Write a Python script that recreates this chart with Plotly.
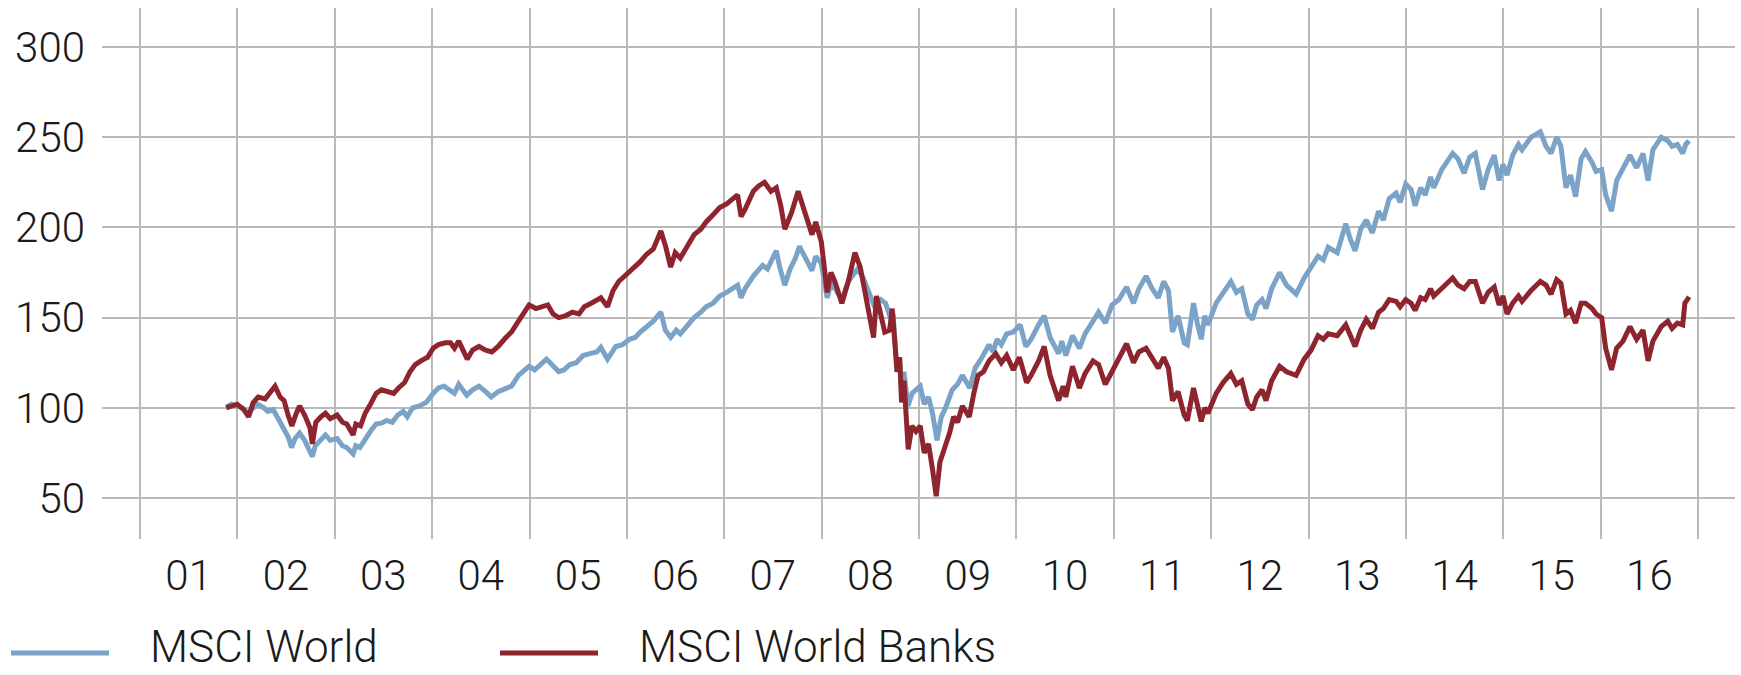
import plotly.graph_objects as go

# ---------------- data ----------------
world_dates = [
    "2001-11-20", "2001-12-10", "2001-12-31", "2002-01-20", "2002-02-08", "2002-03-01",
    "2002-03-18", "2002-04-10", "2002-04-25", "2002-05-15", "2002-06-05", "2002-06-25",
    "2002-07-10", "2002-07-23", "2002-08-05", "2002-08-22", "2002-09-10", "2002-09-30",
    "2002-10-09", "2002-10-20", "2002-11-05", "2002-11-27", "2002-12-15", "2003-01-10",
    "2003-01-30", "2003-02-15", "2003-03-11", "2003-03-21", "2003-04-05", "2003-04-25",
    "2003-05-15", "2003-06-05", "2003-06-25", "2003-07-15", "2003-08-05", "2003-08-25",
    "2003-09-15", "2003-09-30", "2003-10-20", "2003-11-15", "2003-12-10", "2004-01-05",
    "2004-01-25", "2004-02-15", "2004-03-10", "2004-03-25", "2004-04-10", "2004-05-10",
    "2004-06-01", "2004-06-25", "2004-07-20", "2004-08-10", "2004-09-05", "2004-09-25",
    "2004-10-25", "2004-11-20", "2004-12-30", "2005-01-20", "2005-02-10", "2005-03-05",
    "2005-03-25", "2005-04-20", "2005-05-10", "2005-06-01", "2005-06-25", "2005-07-20",
    "2005-08-15", "2005-09-10", "2005-09-25", "2005-10-20", "2005-11-20", "2005-12-15",
    "2006-01-10", "2006-02-01", "2006-02-20", "2006-03-15", "2006-04-10", "2006-05-08",
    "2006-05-25", "2006-06-14", "2006-07-05", "2006-07-20", "2006-08-15", "2006-09-10",
    "2006-10-05", "2006-10-25", "2006-11-20", "2006-12-15", "2007-01-10", "2007-02-20",
    "2007-03-05", "2007-03-20", "2007-04-20", "2007-05-25", "2007-06-12", "2007-07-15",
    "2007-07-28", "2007-08-16", "2007-09-05", "2007-09-25", "2007-10-10", "2007-11-05",
    "2007-11-26", "2007-12-10", "2007-12-31", "2008-01-22", "2008-02-05", "2008-02-20",
    "2008-03-17", "2008-04-10", "2008-05-15", "2008-06-05", "2008-06-25", "2008-07-15",
    "2008-08-10", "2008-08-28", "2008-09-15", "2008-09-25", "2008-10-10", "2008-10-20",
    "2008-10-27", "2008-11-05", "2008-11-20", "2008-12-05", "2009-01-05", "2009-01-20",
    "2009-02-05", "2009-02-20", "2009-03-09", "2009-03-25", "2009-04-10", "2009-05-05",
    "2009-05-25", "2009-06-12", "2009-07-10", "2009-07-30", "2009-08-25", "2009-09-20",
    "2009-10-05", "2009-10-20", "2009-11-05", "2009-11-25", "2009-12-20", "2010-01-15",
    "2010-02-05", "2010-02-25", "2010-03-25", "2010-04-15", "2010-05-07", "2010-05-25",
    "2010-06-08", "2010-06-20", "2010-07-05", "2010-07-30", "2010-08-25", "2010-09-15",
    "2010-10-15", "2010-11-05", "2010-11-30", "2010-12-25", "2011-01-20", "2011-02-18",
    "2011-03-16", "2011-04-05", "2011-05-02", "2011-05-25", "2011-06-17", "2011-07-07",
    "2011-07-25", "2011-08-09", "2011-08-30", "2011-09-22", "2011-10-04", "2011-10-27",
    "2011-11-10", "2011-11-25", "2011-12-08", "2011-12-20", "2012-01-20", "2012-02-15",
    "2012-03-15", "2012-04-05", "2012-04-25", "2012-05-18", "2012-06-04", "2012-06-20",
    "2012-07-10", "2012-07-25", "2012-08-15", "2012-09-14", "2012-10-10", "2012-11-15",
    "2012-12-15", "2013-01-10", "2013-02-05", "2013-02-25", "2013-03-15", "2013-04-18",
    "2013-05-20", "2013-06-05", "2013-06-24", "2013-07-15", "2013-08-05", "2013-08-28",
    "2013-09-20", "2013-10-08", "2013-10-30", "2013-11-25", "2013-12-10", "2013-12-31",
    "2014-01-20", "2014-02-04", "2014-02-25", "2014-03-14", "2014-04-03", "2014-04-15",
    "2014-05-15", "2014-06-25", "2014-07-15", "2014-08-07", "2014-08-28", "2014-09-18",
    "2014-10-15", "2014-11-05", "2014-11-28", "2014-12-16", "2014-12-31", "2015-01-15",
    "2015-02-05", "2015-02-27", "2015-03-12", "2015-04-15", "2015-05-20", "2015-06-10",
    "2015-06-29", "2015-07-20", "2015-08-05", "2015-08-24", "2015-09-10", "2015-09-29",
    "2015-10-20", "2015-11-05", "2015-11-30", "2015-12-15", "2016-01-05", "2016-01-20",
    "2016-02-11", "2016-03-01", "2016-03-25", "2016-04-20", "2016-05-15", "2016-06-08",
    "2016-06-27", "2016-07-15", "2016-08-15", "2016-09-09", "2016-09-25", "2016-10-15",
    "2016-11-04", "2016-11-15", "2016-11-28",
]
world_values = [
    100.5, 102, 101, 100, 97, 100,
    102, 100, 98, 99, 94, 88,
    84, 78, 83, 86, 82, 76,
    73, 79, 82, 85, 82, 83,
    79, 78, 74.5, 79, 78, 83,
    87, 91, 91.5, 93, 92, 96,
    98, 95, 100, 101, 103, 108,
    111, 112, 110, 108, 113, 107,
    110, 112, 109, 106, 109, 110,
    112, 118, 123, 121, 124, 127,
    124, 120, 121, 124, 125, 129,
    130, 131, 133.5, 127, 134, 135,
    138, 139, 142, 145, 148, 153,
    143, 139, 143, 141, 146, 150,
    153, 156, 158, 162, 164, 168,
    161, 166, 173, 179, 177, 187,
    178, 168, 177, 183, 189.5, 182,
    176, 184, 180, 161, 169, 166,
    160, 170, 177, 172, 165, 157,
    160, 158, 150, 152, 120, 125,
    110, 120, 101, 108, 112, 102,
    106, 97, 82, 95, 100, 110,
    113, 118, 111, 122, 128, 135,
    131, 138, 135, 141, 142, 146,
    134, 138, 146, 151, 139, 133,
    130, 137, 129, 140, 133, 141,
    148, 153, 147, 157, 160, 167,
    158, 166, 173, 166, 161, 170,
    165, 142, 151, 136, 135, 158,
    147, 138, 151, 146, 158, 164,
    170, 164, 166, 152, 149, 157,
    160, 155, 166, 175, 168, 163,
    172, 178, 184, 182, 189, 186,
    202, 194, 187, 199, 204, 197,
    209, 204, 216, 219, 214, 224,
    221, 212, 222, 218, 228, 222,
    232, 241, 238, 230, 239, 241,
    221, 232, 240, 226, 235, 229,
    240, 246, 243, 250, 253, 245,
    241, 250, 245, 222, 229, 217,
    238, 242, 236, 231, 232, 218,
    209, 226, 233, 240, 233, 241,
    226, 243, 250, 248, 245, 246,
    241, 246, 248,
]

banks_dates = [
    "2001-11-20", "2001-12-10", "2001-12-31", "2002-01-25", "2002-02-12", "2002-03-01",
    "2002-03-20", "2002-04-15", "2002-05-01", "2002-05-22", "2002-06-10", "2002-06-25",
    "2002-07-10", "2002-07-24", "2002-08-10", "2002-08-22", "2002-09-10", "2002-09-30",
    "2002-10-09", "2002-10-22", "2002-11-10", "2002-11-27", "2002-12-15", "2003-01-10",
    "2003-01-30", "2003-02-15", "2003-03-11", "2003-03-21", "2003-04-08", "2003-04-25",
    "2003-05-15", "2003-06-05", "2003-06-25", "2003-07-20", "2003-08-10", "2003-08-28",
    "2003-09-20", "2003-10-10", "2003-10-30", "2003-11-20", "2003-12-15", "2004-01-05",
    "2004-01-25", "2004-02-20", "2004-03-10", "2004-03-25", "2004-04-10", "2004-05-12",
    "2004-06-01", "2004-06-25", "2004-07-20", "2004-08-12", "2004-09-05", "2004-09-28",
    "2004-10-25", "2004-11-20", "2004-12-10", "2004-12-30", "2005-01-25", "2005-02-20",
    "2005-03-10", "2005-03-30", "2005-04-20", "2005-05-15", "2005-06-10", "2005-07-05",
    "2005-07-25", "2005-08-20", "2005-09-25", "2005-10-20", "2005-11-10", "2005-12-01",
    "2005-12-25", "2006-01-25", "2006-02-20", "2006-03-15", "2006-04-10", "2006-05-08",
    "2006-05-25", "2006-06-14", "2006-07-01", "2006-07-20", "2006-08-15", "2006-09-10",
    "2006-10-05", "2006-10-25", "2006-11-20", "2006-12-15", "2007-01-10", "2007-02-20",
    "2007-03-05", "2007-03-20", "2007-04-20", "2007-05-10", "2007-06-01", "2007-06-25",
    "2007-07-15", "2007-08-01", "2007-08-16", "2007-09-10", "2007-10-05", "2007-10-20",
    "2007-11-10", "2007-11-26", "2007-12-10", "2007-12-31", "2008-01-22", "2008-02-05",
    "2008-02-20", "2008-03-17", "2008-04-10", "2008-05-05", "2008-05-25", "2008-06-12",
    "2008-06-25", "2008-07-14", "2008-07-25", "2008-08-10", "2008-08-25", "2008-09-12",
    "2008-09-22", "2008-10-10", "2008-10-20", "2008-10-27", "2008-11-05", "2008-11-21",
    "2008-12-05", "2008-12-20", "2009-01-05", "2009-01-20", "2009-02-05", "2009-02-20",
    "2009-03-06", "2009-03-20", "2009-04-05", "2009-04-25", "2009-05-10", "2009-05-25",
    "2009-06-12", "2009-07-08", "2009-07-25", "2009-08-10", "2009-08-30", "2009-09-20",
    "2009-10-15", "2009-11-05", "2009-11-25", "2009-12-20", "2010-01-12", "2010-02-08",
    "2010-02-25", "2010-03-25", "2010-04-15", "2010-05-07", "2010-05-25", "2010-06-08",
    "2010-06-25", "2010-07-05", "2010-07-30", "2010-08-25", "2010-09-15", "2010-10-15",
    "2010-11-05", "2010-11-30", "2010-12-25", "2011-01-20", "2011-02-18", "2011-03-16",
    "2011-04-05", "2011-05-02", "2011-05-25", "2011-06-17", "2011-07-07", "2011-07-25",
    "2011-08-09", "2011-08-30", "2011-09-22", "2011-10-04", "2011-10-27", "2011-11-10",
    "2011-11-25", "2011-12-08", "2011-12-20", "2012-01-20", "2012-02-15", "2012-03-15",
    "2012-04-05", "2012-04-25", "2012-05-18", "2012-06-04", "2012-06-20", "2012-07-10",
    "2012-07-25", "2012-08-15", "2012-09-14", "2012-10-10", "2012-11-15", "2012-12-15",
    "2013-01-10", "2013-02-05", "2013-02-25", "2013-03-15", "2013-04-18", "2013-05-20",
    "2013-06-05", "2013-06-24", "2013-07-15", "2013-08-05", "2013-08-28", "2013-09-20",
    "2013-10-08", "2013-10-30", "2013-11-25", "2013-12-10", "2013-12-31", "2014-01-20",
    "2014-02-04", "2014-02-25", "2014-03-14", "2014-04-03", "2014-04-15", "2014-05-15",
    "2014-06-25", "2014-07-15", "2014-08-07", "2014-08-28", "2014-09-18", "2014-10-15",
    "2014-11-05", "2014-11-28", "2014-12-16", "2014-12-31", "2015-01-15", "2015-02-05",
    "2015-02-27", "2015-03-12", "2015-04-15", "2015-05-20", "2015-06-10", "2015-06-29",
    "2015-07-20", "2015-08-05", "2015-08-24", "2015-09-10", "2015-09-29", "2015-10-20",
    "2015-11-05", "2015-11-30", "2015-12-15", "2016-01-05", "2016-01-20", "2016-02-11",
    "2016-03-01", "2016-03-25", "2016-04-20", "2016-05-15", "2016-06-08", "2016-06-27",
    "2016-07-15", "2016-08-15", "2016-09-09", "2016-09-25", "2016-10-15", "2016-11-04",
    "2016-11-12", "2016-11-28",
]
banks_values = [
    100, 101, 102, 99, 95, 103,
    106, 105, 108, 112, 106, 104,
    96, 90, 97, 101, 96, 89,
    80, 92, 95, 97, 94, 96,
    92, 91, 85, 91, 90, 97,
    102, 108, 110, 109, 108, 111,
    114, 120, 124, 126, 128, 133,
    135, 136, 136, 133, 137, 127,
    132, 134, 132, 131, 134, 138,
    142, 148, 153, 157, 155, 156,
    157, 152, 150, 151, 153, 152,
    156, 158, 161, 156, 165, 170,
    173, 177, 181, 185, 188, 198,
    190, 178, 186, 183, 190, 196,
    199, 203, 207, 211, 213, 218,
    206, 210, 220, 223, 225, 220,
    222, 212, 199, 208, 220, 213,
    203, 196, 203, 192, 164, 175,
    170, 158, 170, 186, 178, 163,
    155, 139, 162, 150, 142, 143,
    155, 120, 128, 103, 115, 77,
    90, 87, 90, 75, 80, 66,
    51, 70, 77, 86, 95, 92,
    101, 95, 108, 118, 120, 126,
    130, 125, 129, 121, 128, 114,
    118, 126, 134, 118, 110, 104,
    112, 106, 123, 111, 119, 126,
    124, 113, 120, 128, 135.5, 125,
    131, 133, 127, 122, 128, 122,
    104, 109, 96, 93, 111, 101,
    92.5, 100, 97, 108, 114, 119,
    113, 115, 102, 99, 106, 110,
    104, 115, 123, 120, 118, 127,
    132, 140, 138, 141, 140, 146,
    141, 134, 143, 149, 144, 153,
    155, 160, 159, 156, 160, 158,
    154, 161, 160, 166, 162, 166,
    172, 168, 166, 170, 170, 158,
    164, 167, 157, 162, 152, 158,
    162, 159, 165, 170, 168, 163,
    171, 169, 152, 154, 147, 158,
    158, 155, 152, 150, 133, 121,
    133, 137, 145, 138, 143, 126,
    137, 145, 148, 144, 147, 146,
    158, 161.5,
]

series_names = ["MSCI World", "MSCI World Banks"]
series_colors = ["#7BA3C8", "#8E242D"]
y_ticks = [50, 100, 150, 200, 250, 300]
year_labels = ["01", "02", "03", "04", "05", "06", "07", "08",
               "09", "10", "11", "12", "13", "14", "15", "16"]

# ---------------- figure ----------------
W, H = 1741, 675
ML, MR, MT, MB = 102, 6, 8, 136
PW, PH = W - ML - MR, H - MT - MB

font_family = "Roboto, 'Helvetica Neue', Arial, sans-serif"
text_color = "#1a1a1a"
grid_color = "#b9b9b9"

fig = go.Figure()
fig.add_trace(go.Scatter(x=world_dates, y=world_values, mode="lines",
                         name=series_names[0],
                         line=dict(color=series_colors[0], width=5),
                         showlegend=False))
fig.add_trace(go.Scatter(x=banks_dates, y=banks_values, mode="lines",
                         name=series_names[1],
                         line=dict(color=series_colors[1], width=5),
                         showlegend=False))

fig.update_layout(
    width=W, height=H, autosize=False,
    margin=dict(l=ML, r=MR, t=MT, b=MB, pad=0),
    paper_bgcolor="white", plot_bgcolor="white",
    font=dict(family=font_family, size=42, color=text_color, weight=300),
)
# year labels sit in the middle of each year; gridlines at year boundaries
fig.update_xaxes(
    type="date",
    range=["2000-08-11", "2017-05-19"],
    tickvals=["20" + y + "-07-02" for y in year_labels],
    ticktext=year_labels,
    showgrid=False, showline=False, zeroline=False, ticks="",
    ticklabelstandoff=8,
    tickfont=dict(family=font_family, size=42, color=text_color, weight=300),
    minor=dict(tick0="2001-01-01", dtick="M12", showgrid=True,
               gridcolor=grid_color, gridwidth=1.5, ticks=""),
)
fig.update_yaxes(
    range=[27.3, 321.6],
    tickvals=y_ticks,
    showgrid=True, gridcolor=grid_color, gridwidth=1.5,
    showline=False, zeroline=False, ticks="",
    ticklabelstandoff=16,
    tickfont=dict(family=font_family, size=42, color=text_color, weight=300),
)

# custom legend (lines + real text) below the plot
def px_x(x):
    return (x - ML) / PW

def px_y(y):
    return (H - MB - y) / PH

legend_items = [
    (series_names[0], series_colors[0], 11, 109, 149),
    (series_names[1], series_colors[1], 500, 598, 638),
]
leg_line_y = 653
leg_text_bottom = 674
for name, color, x0, x1, xt in legend_items:
    fig.add_shape(type="line", xref="paper", yref="paper",
                  x0=px_x(x0), x1=px_x(x1), y0=px_y(leg_line_y), y1=px_y(leg_line_y),
                  line=dict(color=color, width=5))
    fig.add_annotation(xref="paper", yref="paper", x=px_x(xt), y=px_y(leg_text_bottom),
                       text=name, showarrow=False, xanchor="left", yanchor="bottom",
                       borderpad=0,
                       font=dict(family=font_family, size=44, color=text_color, weight=300))

fig.write_html("out.html")
